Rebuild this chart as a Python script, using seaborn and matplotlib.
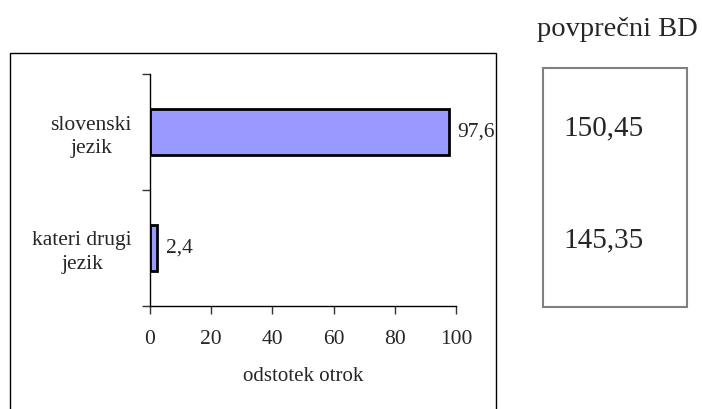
import matplotlib.pyplot as plt
import matplotlib.patches as patches
import pandas as pd
import seaborn as sns

sns.set_style("white")
plt.rcParams["font.family"] = ["Liberation Serif", "DejaVu Serif"]

# data
categories = ["slovenski\njezik", "kateri drugi\njezik"]
odstotek = [97.6, 2.4]
povprecni_bd = [150.45, 145.35]
x_ticks = [0, 20, 40, 60, 80, 100]

df = pd.DataFrame({"jezik": categories, "odstotek": odstotek})

fig = plt.figure(figsize=(7.02, 4.09), dpi=100)
ax = fig.add_axes([150 / 702, 103 / 409, 306 / 702, 232 / 409])

sns.barplot(
    data=df,
    y="jezik",
    x="odstotek",
    orient="h",
    color="#9999FF",
    saturation=1,
    width=0.4,
    edgecolor="black",
    linewidth=2,
    ax=ax,
)

ax.set_xlim(0, 100)
ax.set_ylim(1.5, -0.5)
ax.set_xticks(x_ticks)
ax.set_xticklabels([str(t) for t in x_ticks], fontsize=15.5)
ax.set_xlabel("odstotek otrok", fontsize=15, labelpad=13)
ax.set_ylabel("")

# tick marks between categories, labels in the middle
ax.set_yticks([-0.5, 0.5, 1.5])
ax.set_yticklabels([])
ax.set_yticks([0, 1], minor=True)
ax.set_yticklabels(categories, minor=True, fontsize=15.5,
                   multialignment="center", linespacing=1.35)
ax.tick_params(axis="y", which="minor", length=0, pad=13)
ax.tick_params(axis="y", which="major", length=6, width=1, color="#333333", left=True)
ax.tick_params(axis="x", length=6, width=1, color="#333333", bottom=True, pad=11)

for s in ["top", "right"]:
    ax.spines[s].set_visible(False)
for s in ["left", "bottom"]:
    ax.spines[s].set_color("black")
    ax.spines[s].set_linewidth(1)

ax.bar_label(
    ax.containers[0],
    labels=[f"{v:.1f}".replace(".", ",") for v in odstotek],
    padding=6,
    fontsize=15.5,
)

# outer chart border
fig.add_artist(patches.Rectangle(
    (10 / 702, -0.05), 486 / 702, 1 - 53 / 409 + 0.05,
    transform=fig.transFigure, fill=False, edgecolor="black", linewidth=1,
))

# box with average BD
fig.add_artist(patches.Rectangle(
    (543 / 702, 1 - 307 / 409), 144 / 702, 239 / 409,
    transform=fig.transFigure, fill=False, edgecolor="#808080", linewidth=1.5,
))
fig.text(617 / 702, 1 - 30 / 409, "povprečni BD", fontsize=20.5, ha="center", va="center")
for v, yy in zip(povprecni_bd, [128, 240]):
    fig.text(604 / 702, 1 - yy / 409, f"{v:.2f}".replace(".", ","),
             fontsize=21, ha="center", va="center")

fig.savefig("out.png", dpi=100)
